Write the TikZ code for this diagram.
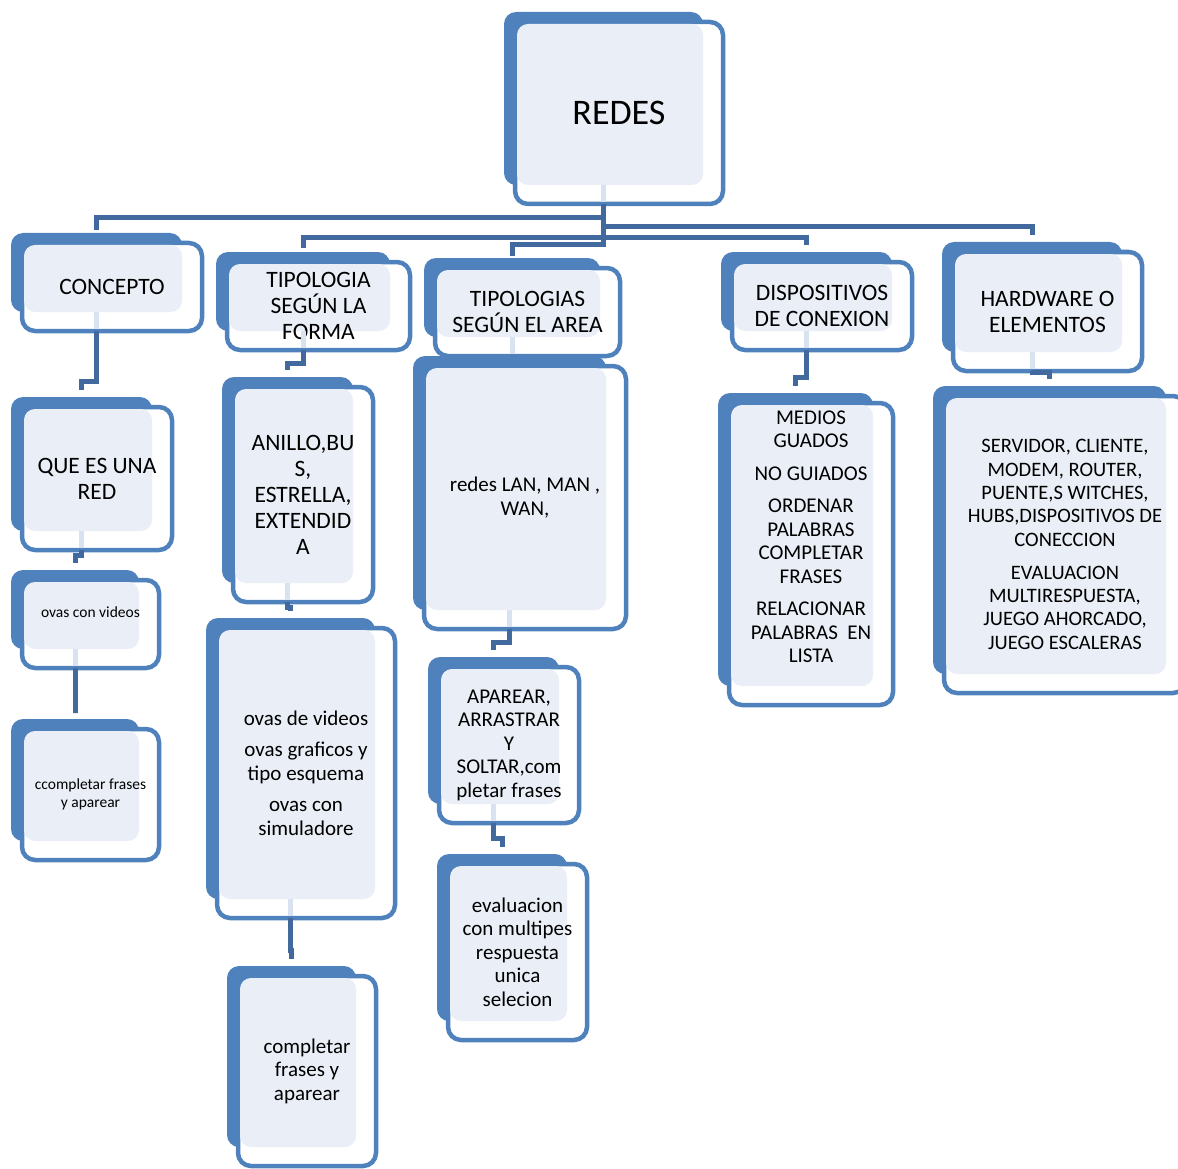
\documentclass[tikz,border=0pt]{standalone}
\usepackage{fontspec}
\setmainfont{Carlito}
\usepackage{tikz}

\definecolor{azul}{HTML}{4F81BD}
\definecolor{relleno}{HTML}{EAEFF7}
\definecolor{linea}{HTML}{41699D}
\definecolor{marcaclara}{HTML}{D9E2F0}

\tikzset{
  atras/.style={fill=azul, rounded corners=12pt, inner sep=0pt, outer sep=0pt},
  frente/.style={draw=azul, line width=4.5pt, fill=white, rounded corners=13pt},
  interior/.style={fill=relleno, rounded corners=11pt},
  texto/.style={align=center, inner sep=0pt, font=\fontsize{21}{23.5}\selectfont},
  grande/.style={font=\fontsize{23.5}{26}\selectfont},
  chico/.style={font=\fontsize{15.5}{17.5}\selectfont},
  conector/.style={draw=linea, line width=5pt},
  marca/.style={draw=marcaclara, line width=5pt},
}

% caja: [opciones del texto]{nombre}{x1}{y1}{x2}{y2}{texto}
\newcommand{\caja}[7][]{%
  \node[atras, anchor=north west, minimum width={(#5-#3-9)*1pt},
        minimum height={(#6-#4-9)*1pt}] (#2) at (#3-11,#4-10) {};
  \draw[frente] (#3,#4) rectangle (#5,#6);
  \fill[interior] (#3+2,#4+2) rectangle (#5-20,#6-19);
  \node[texto,#1] (#2-txt) at ({(#3+#5)/2},{(#4+#6)/2}) {#7};
}

\begin{document}
\begin{tikzpicture}[x=1pt,y=-1pt]
	\useasboundingbox (0,0) rectangle (1178,1169);

	% raiz y primer nivel
	\caja[font=\fontsize{36}{40}\selectfont]{redes}{515}{22}{723}{204}{REDES}
	\caja[grande]{concepto}{22}{243}{202}{331}{CONCEPTO}
	\caja[grande]{tforma}{227}{262}{410}{350}{TIPOLOGIA\\SEGÚN LA\\FORMA}
	\caja[grande]{tarea}{435}{268}{620}{356}{TIPOLOGIAS\\SEGÚN EL AREA}
	\caja[grande]{dispositivos}{732}{262}{912}{350}{DISPOSITIVOS\\DE CONEXION}
	\caja[grande]{hardware}{953}{252}{1142}{371}{HARDWARE O\\ELEMENTOS}

	% segundo nivel
	\caja[grande]{quees}{22}{407}{172}{550}{QUE ES UNA\\RED}
	\caja[grande]{anillo}{233}{387}{373}{602}{ANILLO,BU\\S,\\ESTRELLA,\\EXTENDID\\A}
	\caja{redeslan}{424}{366}{626}{629}{redes LAN, MAN ,\\WAN,}
	\caja[yshift=17pt]{medios}{729}{403}{893}{705}{MEDIOS\\GUADOS\\[9pt]NO GUIADOS\\[9pt]ORDENAR\\PALABRAS\\COMPLETAR\\FRASES\\[9pt]RELACIONAR\\PALABRAS\ \ EN\\LISTA}
	\caja[font=\fontsize{20.5}{23.3}\selectfont]{servidor}{944}{396}{1186}{693}{SERVIDOR, CLIENTE,\\MODEM, ROUTER,\\PUENTE,S WITCHES,\\HUBS,DISPOSITIVOS DE\\CONECCION\\[10pt]EVALUACION\\MULTIRESPUESTA,\\JUEGO AHORCADO,\\JUEGO ESCALERAS}

	% tercer nivel y siguientes
	\caja[chico,yshift=12pt]{ovasvid}{22}{580}{159}{668}{ovas con videos}
	\caja[chico]{ccompletar}{22}{729}{159}{860}{ccompletar frases\\y aparear}
	\caja{ovasde}{217}{628}{395}{918}{ovas de videos\\[8pt]ovas graficos y\\tipo esquema\\[8pt]ovas con\\simuladore}
	\caja{aparear}{439}{667}{579}{823}{APAREAR,\\ARRASTRAR\\Y\\SOLTAR,com\\pletar frases}
	\caja{evaluacion}{448}{864}{587}{1040}{evaluacion\\con multipes\\respuesta\\unica\\selecion}
	\caja{completar}{238}{976}{376}{1166}{completar\\frases y\\aparear}

	% conectores desde la raiz
	\draw[marca] (redes.south) -- ++(0,17);
	\draw[conector] ([yshift=-19pt]redes.south) -- ++(0,43);
	\draw[conector] ([yshift=-19pt]redes.south) ++(0,14) -| ([yshift=3pt]concepto.north);
	\draw[conector] ([yshift=-19pt]redes.south) ++(0,23) -| ([yshift=7pt]hardware.north);
	\draw[conector] ([yshift=-19pt]redes.south) ++(0,41) -| ([yshift=2pt]tarea.north);
	\draw[conector] ([yshift=4pt]tforma.north) -- ++(0,-10) -| ([yshift=7pt]dispositivos.north);

	% conectores entre niveles
	\draw[marca] (tarea.south) -- ++(0,17);
	\foreach \de/\baja/\a in {concepto/50/quees, quees/5/ovasvid, ovasvid/45/ccompletar,
	                          tforma/13/anillo, anillo/5/ovasde, ovasde/32/completar,
	                          redeslan/13/aparear, aparear/15/evaluacion,
	                          dispositivos/27/medios, hardware/1/servidor}{
		\draw[marca] (\de.south) -- ++(0,17);
		\draw[conector] ([yshift=-19pt]\de.south) -- ++(0,\baja) -| ([yshift=7pt]\a.north);
	}
\end{tikzpicture}
\end{document}
